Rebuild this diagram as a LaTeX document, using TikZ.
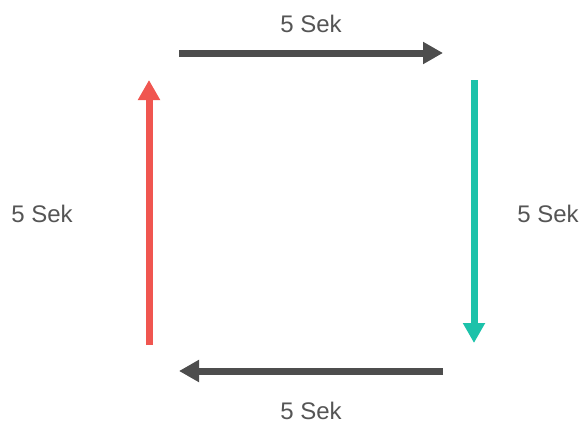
\documentclass[tikz,border=0pt]{standalone}
\usepackage{fontspec}
\setmainfont{Liberation Sans}
\usetikzlibrary{arrows.meta}
\definecolor{darkline}{RGB}{77,77,77}
\definecolor{redline}{RGB}{240,86,80}
\definecolor{tealline}{RGB}{28,194,170}
\definecolor{labelgray}{RGB}{85,85,85}
\tikzset{
  font=\fontsize{24}{28}\selectfont,
  >={Triangle[length=20pt,width=21pt]},
  timearrow/.style={->,line width=7pt},
  timelabel/.style={text=labelgray,anchor=base,inner sep=0pt}
}
\begin{document}
\begin{tikzpicture}[x=1pt,y=-1pt]

  \useasboundingbox (0,0) rectangle (583,423);

  \coordinate (topstart) at (179,53);
  \coordinate (topend) at (443,53);
  \coordinate (rightstart) at (474,80);
  \coordinate (rightend) at (474,343);
  \coordinate (bottomstart) at (443,371);
  \coordinate (bottomend) at (179,371);
  \coordinate (leftstart) at (149,345);
  \coordinate (leftend) at (149,80);

  \node[timelabel] at (311,32) (toplabel) {5 Sek};
  \node[timelabel] at (548,222) (rightlabel) {5 Sek};
  \node[timelabel] at (311,419) (bottomlabel) {5 Sek};
  \node[timelabel] at (42,222) (leftlabel) {5 Sek};

  \draw[timearrow,darkline] (topstart) -- (topend);
  \draw[timearrow,tealline] (rightstart) -- (rightend);
  \draw[timearrow,darkline] (bottomstart) -- (bottomend);
  \draw[timearrow,redline] (leftstart) -- (leftend);

\end{tikzpicture}
\end{document}
